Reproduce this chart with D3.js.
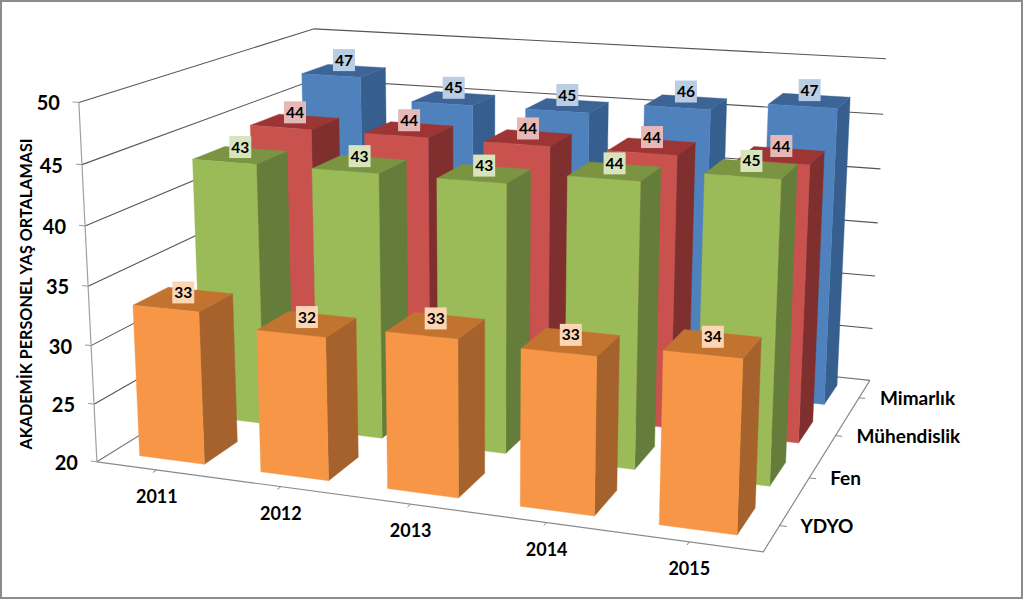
<!DOCTYPE html>
<html><head><meta charset="utf-8">
<script src="https://cdnjs.cloudflare.com/ajax/libs/d3/7.8.5/d3.min.js"></script>
<style>html,body{margin:0;padding:0;background:#fff}svg{display:block}text{font-family:Lato,"Open Sans",sans-serif;font-weight:700;fill:#000}</style>
</head><body><svg id="c" width="1024" height="600"></svg>
<script>
const years = ["2011","2012","2013","2014","2015"];
const seriesNames = ["YDYO","Fen","Mühendislik","Mimarlık"];
const ydyo = [33,32,33,32.8,33.8];
const fen = [43,43,43,44,45];
const muhendislik = [44,44,44,44,44];
const mimarlik = [47,45,45,46,46.8];
const yTicks = [20,25,30,35,40,45,50];
const yTitle = "AKADEMİK PERSONEL YAŞ ORTALAMASI";
const seriesValues = [ydyo,fen,muhendislik,mimarlik];
const palette = [
 {front:"#F79646",side:"#A6622C",top:"#C2732F",label:"#FCD5B5"},
 {front:"#9BBB59",side:"#657D3A",top:"#7A9442",label:"#D7E4BD"},
 {front:"#C9524F",side:"#7F2F2D",top:"#9C3534",label:"#E6B9B8"},
 {front:"#4F81BD",side:"#365F8F",top:"#3C6496",label:"#B9CDE5"}];

// world scales
const X = d3.scaleBand().domain(years).range([0,5]).paddingInner(0.46).paddingOuter(0.23);
const Z = d3.scaleBand().domain(seriesNames).range([0,4]).paddingInner(0.46).paddingOuter(0.23);
const Y = d3.scaleLinear().domain([20,50]).range([0,1]);

// camera calibration: world (x,z,y) -> picture
const anchors = [
 [0,0,0, 97,462],[5,0,0, 763,552],[5,4,0, 870,380],
 [0,4,1, 314,29],[0,0,1, 79,102],[5,4,1, 886,59]];
function solveCamera(a){
 const A=[],b=[];
 a.forEach(([x,z,y,u,v])=>{u/=1000;v/=1000;
  A.push([x,z,y,1,0,0,0,0,-u*x,-u*z,-u*y]);b.push(u);
  A.push([0,0,0,0,x,z,y,1,-v*x,-v*z,-v*y]);b.push(v);});
 const n=11,M=d3.range(n).map(i=>d3.range(n+1).map(j=>{
   let s=0;A.forEach((r,k)=>{s+=r[i]*(j<n?r[j]:b[k]);});return s;}));
 for(let i=0;i<n;i++){let p=i;for(let r=i+1;r<n;r++)if(Math.abs(M[r][i])>Math.abs(M[p][i]))p=r;
  [M[i],M[p]]=[M[p],M[i]];
  for(let r=0;r<n;r++){if(r===i)continue;const f=M[r][i]/M[i][i];for(let c=i;c<=n;c++)M[r][c]-=f*M[i][c];}}
 return M.map((r,i)=>r[n]/r[i]);
}
const P=solveCamera(anchors);
function proj(x,z,y){const w=P[8]*x+P[9]*z+P[10]*y+1;
 return [1000*(P[0]*x+P[1]*z+P[2]*y+P[3])/w,1000*(P[4]*x+P[5]*z+P[6]*y+P[7])/w];}
const line=d3.line();
const svg=d3.select("#c");

svg.append("rect").attr("x",1).attr("y",1).attr("width",1021).attr("height",597)
 .attr("fill","#fff").attr("stroke","#8c8c8c").attr("stroke-width",2);

// grid
const g=svg.append("g").attr("fill","none");
const xMax=5,zMax=4;
yTicks.forEach(t=>{const y=Y(t);
 g.append("path").attr("d",line([proj(0,0,y),proj(0,zMax,y),proj(xMax,zMax,y)]))
  .attr("stroke",t===20?"#777":"#555").attr("stroke-width",1.1);
 g.append("path").attr("d",line([proj(-0.05,0,y),proj(0,0,y)])).attr("stroke","#999");
});
g.append("path").attr("d",line([proj(0,0,0),proj(0,0,1)])).attr("stroke","#a0a0a0").attr("stroke-width",1.2);
g.append("path").attr("d",line([proj(0,0,0),proj(xMax,0,0),proj(xMax,zMax,0)])).attr("stroke","#8a8a8a").attr("stroke-width",1.2);
years.forEach(c=>{const x=X(c)+X.bandwidth()/2;
 g.append("path").attr("d",line([proj(x,0,0),proj(x,-0.06,0)])).attr("stroke","#888");});
seriesNames.forEach(s=>{const z=Z(s)+Z.bandwidth()/2;
 g.append("path").attr("d",line([proj(xMax,z,0),proj(xMax+0.05,z,0)])).attr("stroke","#888");});

// bars, back to front, right to left
const bars=svg.append("g"), labels=[];
d3.range(seriesNames.length-1,-1,-1).forEach(si=>{
 const z0=Z(seriesNames[si]), z1=z0+Z.bandwidth(), col=palette[si];
 d3.range(years.length-1,-1,-1).forEach(ci=>{
  const x0=X(years[ci]), x1=x0+X.bandwidth(), v=seriesValues[si][ci], h=Y(v);
  const face=(pts,f)=>bars.append("path").attr("d",line(pts.map(p=>proj(...p)))+"Z").attr("fill",f).attr("stroke",f).attr("stroke-width",.4);
  face([[x1,z0,0],[x1,z1,0],[x1,z1,h],[x1,z0,h]],col.side);
  face([[x0,z0,h],[x1,z0,h],[x1,z1,h],[x0,z1,h]],col.top);
  face([[x0,z0,0],[x1,z0,0],[x1,z0,h],[x0,z0,h]],col.front);
  labels.push({p:proj((x0+x1)/2,(z0+z1)/2,h),v,col,dy:-7-1.2*si});
 });
});
// labels on top
const lg=svg.append("g");
labels.forEach(l=>{const cy=l.p[1]+l.dy;
 lg.append("rect").attr("x",l.p[0]-11).attr("y",cy-11).attr("width",22).attr("height",22).attr("fill",l.col.label);
 lg.append("text").attr("x",l.p[0]).attr("y",cy+5.5).attr("text-anchor","middle").attr("font-size",15.5).text(d3.format(".0f")(l.v));
});
// axis text
yTicks.forEach(t=>{const p=proj(0,0,Y(t));
 svg.append("text").attr("x",p[0]-19).attr("y",p[1]+8).attr("text-anchor","end").attr("font-size",20).text(t);});
years.forEach(c=>{const p=proj(X(c)+X.bandwidth()/2,0,0);
 svg.append("text").attr("x",p[0]).attr("y",p[1]+33).attr("text-anchor","middle").attr("font-size",18).text(c);});
seriesNames.forEach(s=>{const p=proj(xMax,Z(s)+Z.bandwidth()/2,0);
 svg.append("text").attr("x",p[0]+21).attr("y",p[1]+7).attr("font-size",19).text(s);});
svg.append("text").attr("transform","translate(32,294) rotate(-90)").attr("text-anchor","middle").attr("font-size",16.2).text(yTitle);
</script></body></html>
